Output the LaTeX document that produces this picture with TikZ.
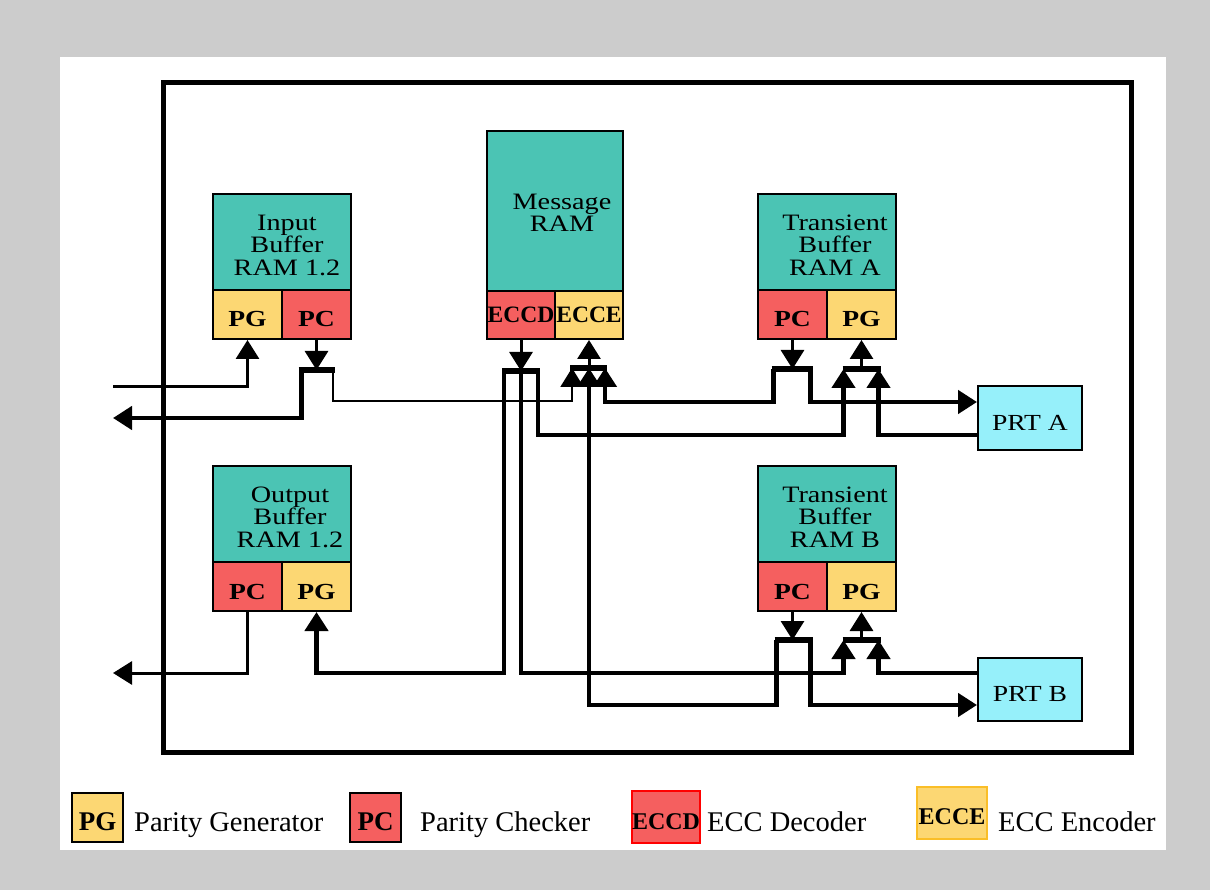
\documentclass[tikz,border=0pt]{standalone}
\usepackage{fontspec}
\setmainfont{Liberation Serif}
\newfontfamily\boxfont[FakeStretch=1.2]{Liberation Serif}
\usetikzlibrary{arrows.meta}
\definecolor{bggray}{RGB}{204,204,204}
\definecolor{ramteal}{RGB}{75,196,180}
\definecolor{prtcyan}{RGB}{150,240,250}
\definecolor{pcred}{RGB}{245,95,95}
\definecolor{pgyellow}{RGB}{252,215,115}
\definecolor{keyorange}{RGB}{250,190,40}

\begin{document}
\begin{tikzpicture}[x=1pt, y=-1pt, >={Triangle[width=23pt,length=19pt]},
  ram/.style={draw, line width=2pt, fill=ramteal, minimum width=138pt, minimum height=96pt, inner sep=0pt},
  ramtext/.style={font=\boxfont\fontsize{23.5}{22.5}\selectfont, align=center, inner sep=0pt},
  cell/.style={draw, line width=2pt, minimum width=69pt, minimum height=49pt, inner sep=0pt,
    text height=25pt, text depth=0pt, font=\boxfont\bfseries\fontsize{23}{23}\selectfont},
  pg/.style={cell, fill=pgyellow},
  pc/.style={cell, fill=pcred},
  ecc/.style={minimum width=68pt, minimum height=48pt, text height=16pt, font=\bfseries\fontsize{23.5}{23.5}\selectfont},
  prt/.style={draw, line width=2pt, fill=prtcyan, minimum width=104pt, minimum height=63pt, inner sep=0pt,
    text height=24pt, text depth=0pt, font=\boxfont\fontsize{23}{23}\selectfont},
  key/.style={draw, line width=1.5pt, inner sep=0pt, text depth=0pt, font=\bfseries\fontsize{24}{24}\selectfont},
  keytext/.style={anchor=base west, inner sep=0pt, font=\fontsize{28.5}{30}\selectfont},
  bus/.style={line width=4.5pt},
  wire/.style={line width=3pt},
  thinwire/.style={line width=2pt},
  bar/.style={line width=6pt}]

  \useasboundingbox (0,0) rectangle (1210,890);
  \fill[bggray] (0,0) rectangle (1210,890);
  \fill[white] (60,57) rectangle (1166,850);
  \draw[line width=5pt] (163,83) rectangle (1131,752);

  % buffers and message RAM
  \node[ram] (inbuf) at (282,242) {};
  \node[pg] (inpg) at (247.5,314.5) {PG};
  \node[pc] (inpc) at (316.5,314.5) {PC};
  \node[ramtext] (inbuftxt) at (287,245) {Input\\Buffer\\RAM 1.2};

  \node[ram, minimum width=136pt, minimum height=160pt] (msg) at (555,211) {};
  \node[pc, ecc] (msgdec) at (521,315) {ECCD};
  \node[pg, ecc] (msgenc) at (589,315) {ECCE};
  \node[ramtext] (msgtxt) at (562,213) {Message\\RAM};

  \node[ram] (tba) at (827,242) {};
  \node[pc] (tbapc) at (792.5,314.5) {PC};
  \node[pg] (tbapg) at (861.5,314.5) {PG};
  \node[ramtext] (tbatxt) at (835,245) {Transient\\Buffer\\RAM A};

  \node[ram] (outbuf) at (282,514) {};
  \node[pc] (outpc) at (247.5,586.5) {PC};
  \node[pg] (outpg) at (316.5,586.5) {PG};
  \node[ramtext] (outbuftxt) at (290,517) {Output\\Buffer\\RAM 1.2};

  \node[ram] (tbb) at (827,514) {};
  \node[pc] (tbbpc) at (792.5,586.5) {PC};
  \node[pg] (tbbpg) at (861.5,586.5) {PG};
  \node[ramtext] (tbbtxt) at (835,517) {Transient\\Buffer\\RAM B};

  \node[prt] (prta) at (1030,418) {PRT A};
  \node[prt] (prtb) at (1030,689) {PRT B};

  % junctions
  \coordinate (hostin) at (113,387);
  \coordinate (hostout) at (113,418);
  \coordinate (hostrd) at (113,673);
  \coordinate (inT) at (316.5,370);
  \coordinate (decT) at (521,371);
  \coordinate (encT) at (589,368);
  \coordinate (tbaT) at (792.5,369);
  \coordinate (tbaF) at (861.5,369);
  \coordinate (tbbT) at (792.5,640);
  \coordinate (tbbF) at (861.5,640);

  % host side
  \draw[wire, ->] (hostin) -| (inpg.south);
  \draw[wire, ->] (inpc.south) -- (inT);
  \draw[bus, ->] ([xshift=-15pt]inT) |- (hostout);
  \draw[thinwire, ->] ([xshift=16pt]inT) -- ++(0,31) -| ([xshift=-17pt]encT);
  \draw[wire, ->] (outpc.south) |- (hostrd);

  % message RAM decoder outputs
  \draw[wire, ->] (msgdec.south) -- (decT);
  \draw[bus, ->] ([xshift=-17pt]decT) -- ++(0,302) -| (outpg.south);
  \draw[bus, ->] (decT) -- ++(0,302) -| ([xshift=-18pt]tbbF);
  \draw[bus, ->] ([xshift=17pt]decT) -- ++(0,64) -| ([xshift=-18pt]tbaF);

  % message RAM encoder inputs
  \draw[wire, ->] (encT) -- (msgenc.south);
  \draw[bus, ->] ([xshift=-19pt]tbaT) -- ++(0,33) -| ([xshift=16pt]encT);
  \draw[bus, ->] ([xshift=-16pt]tbbT) -- ++(0,65) -| (encT);

  % transient buffers and PRT
  \draw[wire, ->] (tbapc.south) -- (tbaT);
  \draw[bus, ->] ([xshift=18pt]tbaT) |- ([yshift=16pt]prta.west);
  \draw[bus, ->] ([yshift=-17pt]prta.west) -| ([xshift=17pt]tbaF);
  \draw[wire, ->] (tbaF) -- (tbapg.south);
  \draw[wire, ->] (tbbpc.south) -- (tbbT);
  \draw[bus, ->] ([xshift=18pt]tbbT) |- ([yshift=-16pt]prtb.west);
  \draw[bus, ->] ([yshift=16pt]prtb.west) -| ([xshift=17pt]tbbF);
  \draw[wire, ->] (tbbF) -- (tbbpg.south);

  \draw[bar] ([xshift=-18pt]inT) -- ([xshift=18pt]inT);
  \draw[bar] ([xshift=-19pt]decT) -- ([xshift=19pt]decT);
  \draw[bar] ([xshift=-19pt]encT) -- ([xshift=18pt]encT);
  \draw[bar] ([xshift=-21pt]tbaT) -- ([xshift=20pt]tbaT);
  \draw[bar] ([xshift=-19pt]tbaF) -- ([xshift=19pt]tbaF);
  \draw[bar] ([xshift=-18pt]tbbT) -- ([xshift=20pt]tbbT);
  \draw[bar] ([xshift=-19pt]tbbF) -- ([xshift=19pt]tbbF);

  % legend
  \node[key, fill=pgyellow, minimum width=51pt, minimum height=49pt, text height=26pt,
    font=\bfseries\fontsize{27}{27}\selectfont] (keypg) at (97.5,817.5) {PG};
  \node[keytext] (keypgtxt) at (134,831) {Parity Generator};
  \node[key, fill=pcred, minimum width=51pt, minimum height=49pt, text height=26pt,
    font=\bfseries\fontsize{27}{27}\selectfont] (keypc) at (375.5,817.5) {PC};
  \node[keytext] (keypctxt) at (420,831) {Parity Checker};
  \node[key, draw=red, fill=pcred, minimum width=68pt, minimum height=52pt, text height=24pt] (keydec) at (666,817) {ECCD};
  \node[keytext] (keydectxt) at (707,831) {ECC Decoder};
  \node[key, draw=keyorange, fill=pgyellow, minimum width=70pt, minimum height=52pt, text height=22pt] (keyenc) at (952,813) {ECCE};
  \node[keytext] (keyenctxt) at (998,831) {ECC Encoder};
\end{tikzpicture}
\end{document}
